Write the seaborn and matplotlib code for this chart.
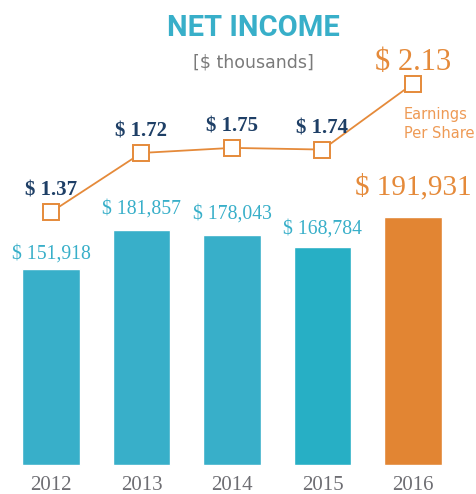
import numpy as np
import matplotlib
matplotlib.use("Agg")
import matplotlib.pyplot as plt
import seaborn as sns

# 데이터
years = ["2012", "2013", "2014", "2015", "2016"]
net_income = [151918, 181857, 178043, 168784, 191931]
eps = [1.37, 1.72, 1.75, 1.74, 2.13]
bar_colors = ["#38AFC9", "#38AFC9", "#38AFC9", "#27AFC5", "#E28533"]

teal = "#38AFC9"
orange = "#E58A3A"
navy = "#1E3F66"
gray = "#6E6E73"

sns.set_style("white")
plt.rcParams['font.family'] = ['DejaVu Sans']

fig = plt.figure(figsize=(4.77, 4.94), dpi=100)
ax = fig.add_axes([0, 0, 1, 1])

# 막대 그래프
sns.barplot(x=years, y=net_income, hue=years, palette=bar_colors, width=0.64,
            legend=False, saturation=1, ax=ax)

# 픽셀 기준 스케일 (막대 중심 51px, 간격 90.5px, 바닥 465px)
ax.set_xlim(-51 / 90.5, (477 - 51) / 90.5)
ax.set_ylim(-29 * 775, 465 * 775)
ax.axis("off")

# 막대 값 라벨 (막대 위 간격, 픽셀)
serif = "Liberation Serif"
label_gap = [17, 24, 24, 21, 33]
for i, v in enumerate(net_income):
    last = i == len(net_income) - 1
    ax.text(i, v + label_gap[i] * 775, f"$ {v:,}", ha="center", va="center_baseline",
            family=serif, fontsize=21 if last else 14.2,
            color=orange if last else teal)

# 연도 라벨
for i, y in enumerate(years):
    ax.text(i, -18 * 775, y, ha="center", va="center_baseline", family=serif,
            fontsize=15, color=gray)

# 주당순이익 선
ax2 = ax.twinx()
ax2.set_ylim(-0.298, 2.625)
sns.lineplot(x=np.arange(len(eps)), y=eps, ax=ax2, color=orange, linewidth=1.3,
             marker="s", markersize=12, markerfacecolor="white",
             markeredgecolor=orange, markeredgewidth=1.4)
ax2.axis("off")

for i, v in enumerate(eps[:-1]):
    ax2.annotate(f"$ {v:.2f}", (i, v), xytext=(0, 17), textcoords="offset points",
                 ha="center", va="center_baseline", family=serif,
                 fontsize=15, fontweight="bold", color=navy)
ax2.annotate(f"$ {eps[-1]:.2f}", (4, eps[-1]), xytext=(0, 18), textcoords="offset points",
             ha="center", va="center_baseline", family=serif, fontsize=22, color=orange)
ax2.text(404 / 477, 1 - 124 / 494, "Earnings\nPer Share", transform=fig.transFigure,
         ha="left", va="center", fontsize=10.5, color="#EE9A55", linespacing=1.3)

# 제목
fig.text(253 / 477, 1 - 25 / 494, "NET INCOME", ha="center", va="center_baseline",
         fontsize=21, fontweight="bold", color=teal, family="Roboto")
fig.text(253 / 477, 1 - 62 / 494, "[$ thousands]", ha="center", va="center",
         fontsize=12.5, color="#7A7A7A")

fig.savefig("out.png", dpi=100)
